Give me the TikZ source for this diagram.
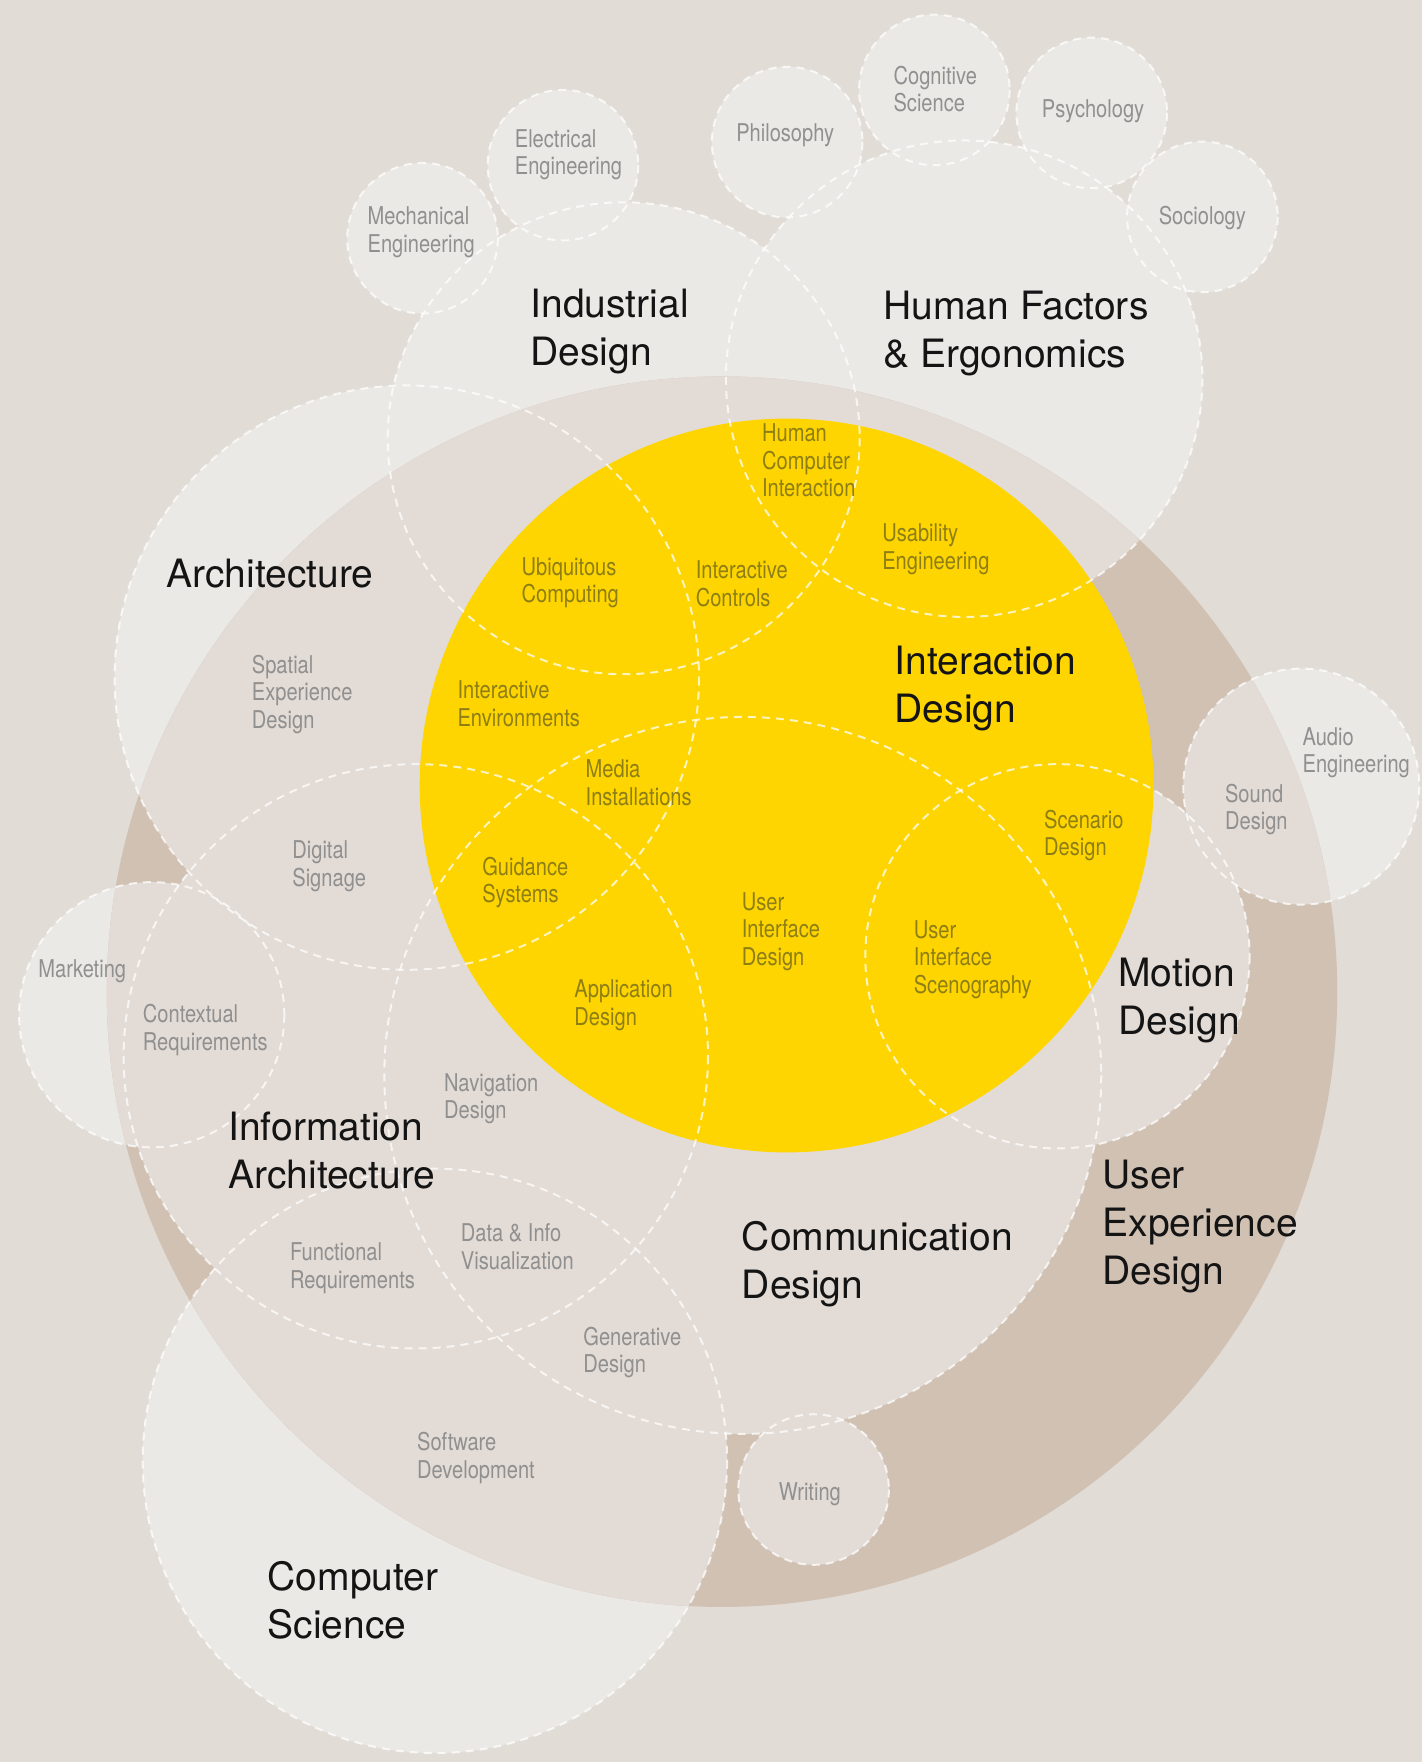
\documentclass[tikz,border=0pt]{standalone}
\usepackage{fontspec}
\setmainfont{TeX Gyre Heros}
\newfontfamily\thinfont[FakeStretch=0.82]{TeX Gyre Heros}
\definecolor{bgc}{HTML}{E1DCD6}
\definecolor{lightc}{HTML}{EBE9E5}
\definecolor{uxc}{HTML}{D0C1B3}
\definecolor{uxlightc}{HTML}{E3DBD5}
\definecolor{yellowc}{HTML}{FED500}
\definecolor{greytext}{HTML}{909090}
\definecolor{olivetext}{HTML}{8E7E16}
\definecolor{bigtext}{HTML}{141414}
\begin{document}
\begin{tikzpicture}[x=1.1233pt,y=-1.1233pt,
  biglabel/.style={anchor=base west, inner sep=0pt, align=left, text=bigtext,
    font=\fontsize{39}{48}\selectfont},
  sublabel/.style={anchor=base west, inner sep=0pt, align=left, text=greytext,
    font=\thinfont\fontsize{24.5}{27.5}\selectfont},
  sublabely/.style={sublabel, text=olivetext},
  dashring/.style={draw=white, draw opacity=0.75, line width=2pt, dash pattern=on 8pt off 6pt}]
% canvas
\fill[bgc] (0,0) rectangle (1265,1568);
\useasboundingbox (0,0) rectangle (1265,1568);
\def\lightcircles{555/390/210, 858/337/212, 362/603/260, 370/940/260, 661/957/319, 941/851/171, 387/1300/260, 376/212/67, 501/147/67, 700.5/126.5/67, 831.5/80/67, 971.5/100.5/67, 1070/193/67, 1158/700/105, 135/903/118, 724/1325.5/67}
% light discipline circles
\foreach \cx/\cy/\r in \lightcircles {\fill[lightc] (\cx,\cy) circle[radius=\r];}
% user experience design circle
\coordinate (uxc) at (642.5,882.5);
\fill[uxc] (uxc) circle[radius=547.5];
\begin{scope}
  \clip (uxc) circle[radius=547.5];
  \foreach \cx/\cy/\r in \lightcircles {\fill[uxlightc] (\cx,\cy) circle[radius=\r];}
\end{scope}
% interaction design circle
\coordinate (ixd) at (700,699);
\fill[yellowc] (ixd) circle[radius=326.5];
% dashed outlines
\foreach \cx/\cy/\r in \lightcircles {\draw[dashring] (\cx,\cy) circle[radius=\r];}
% main labels (positions = baseline of last line)
\node[biglabel] (industrial) at (472,325.7) {Industrial\\Design};
\node[biglabel] (humanf) at (786,326.7) {Human Factors\\\& Ergonomics};
\node[biglabel] (architecture) at (148,523) {Architecture};
\node[biglabel] (interaction) at (796,642.7) {Interaction\\Design};
\node[biglabel] (motion) at (995,920.7) {Motion\\Design};
\node[biglabel] (infoarch) at (203,1057.7) {Information\\Architecture};
\node[biglabel] (ux) at (981,1143.5) {User\\Experience\\Design};
\node[biglabel] (comm) at (660,1155.7) {Communication\\Design};
\node[biglabel] (cs) at (238,1457.7) {Computer\\Science};
% outer disciplines
\node[sublabel] (mech) at (327,224.5) {Mechanical\\Engineering};
\node[sublabel] (elec) at (458,155.5) {Electrical\\Engineering};
\node[sublabel] (phil) at (655,126) {Philosophy};
\node[sublabel] (cog) at (795,99.5) {Cognitive\\Science};
\node[sublabel] (psy) at (927,105) {Psychology};
\node[sublabel] (soc) at (1031,200) {Sociology};
\node[sublabel] (audio) at (1159,687.5) {Audio\\Engineering};
\node[sublabel] (sound) at (1090,738.5) {Sound\\Design};
\node[sublabel] (market) at (34,870) {Marketing};
\node[sublabel] (writing) at (693,1335) {Writing};
% inner fields
\node[sublabely] (hci) at (678,442) {Human\\Computer\\Interaction};
\node[sublabely] (usab) at (785,506.5) {Usability\\Engineering};
\node[sublabely] (ubi) at (464,536.5) {Ubiquitous\\Computing};
\node[sublabely] (ictrl) at (619,539.5) {Interactive\\Controls};
\node[sublabel] (spatial) at (224,648) {Spatial\\Experience\\Design};
\node[sublabely] (ienv) at (407,646.5) {Interactive\\Environments};
\node[sublabely] (media) at (521,716.5) {Media\\Installations};
\node[sublabely] (scen) at (929,761.5) {Scenario\\Design};
\node[sublabel] (signage) at (260,788.5) {Digital\\Signage};
\node[sublabely] (guid) at (429,803.5) {Guidance\\Systems};
\node[sublabely] (uid) at (660,859) {User\\Interface\\Design};
\node[sublabely] (uis) at (813,884) {User\\Interface\\Scenography};
\node[sublabely] (app) at (511,912.5) {Application\\Design};
\node[sublabel] (context) at (127,934.5) {Contextual\\Requirements};
\node[sublabel] (nav) at (395,995.5) {Navigation\\Design};
\node[sublabel] (dataviz) at (410,1129.5) {Data \& Info\\Visualization};
\node[sublabel] (func) at (258,1146.5) {Functional\\Requirements};
\node[sublabel] (gen) at (519,1221.5) {Generative\\Design};
\node[sublabel] (soft) at (371,1315.5) {Software\\Development};
\end{tikzpicture}
\end{document}
